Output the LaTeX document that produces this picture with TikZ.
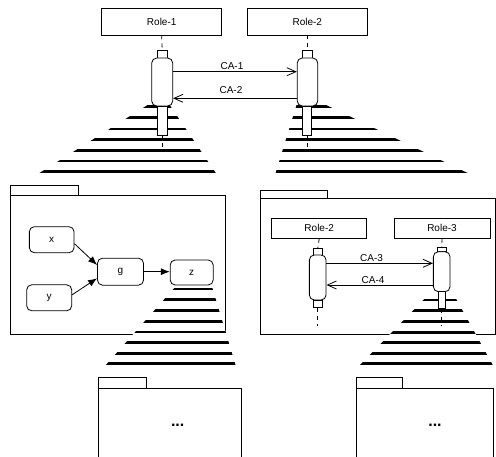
\documentclass[tikz,border=0pt]{standalone}
\usepackage{fontspec}
\setmainfont{Liberation Sans}
\usetikzlibrary{arrows.meta}
\begin{document}
\begin{tikzpicture}[x=1pt,y=-1pt,
  every node/.style={font=\fontsize{10}{12}\selectfont},
  thin line/.style={line width=0.8pt},
  rolebox/.style={draw,fill=white,thin line,inner sep=0pt,minimum width=120pt,minimum height=27pt},
  rolesmall/.style={draw,fill=white,thin line,inner sep=0pt,minimum width=95pt,minimum height=20pt},
  actbox/.style={draw,fill=white,thin line,inner sep=0pt,rounded corners=5pt},
  sqbox/.style={draw,fill=white,thin line,inner sep=0pt},
  valbox/.style={draw,fill=white,thin line,inner sep=0pt,rounded corners=5pt},
  pkg/.style={draw,fill=white,thin line},
  life/.style={thin line,dash pattern=on 4pt off 4pt},
  msg/.style={thin line,-{Straight Barb[length=9pt,width=8pt]}},
  flow/.style={thin line,-{Latex[length=9pt,width=7pt]}},
  stripe/.style={line width=2.8pt},
  dots/.style={font=\fontsize{16}{18}\selectfont\bfseries}
]
\useasboundingbox (0,0) rectangle (496,457);

% ---------- packages ----------
\draw[pkg] (10.7,195.7) rectangle (225,334.3);
\draw[pkg] (10.7,185) rectangle (78.3,195.7);
\draw[pkg] (260.7,198.3) rectangle (495,334.3);
\draw[pkg] (260.7,190) rectangle (327.3,198.3);
\draw[pkg] (98.3,388.3) rectangle (241.7,470);
\draw[pkg] (98.3,377.3) rectangle (146.7,388.3);
\draw[pkg] (356.7,388.3) rectangle (493.3,470);
\draw[pkg] (356.7,377.3) rectangle (402.7,388.3);
\node[dots] (d1) at (177.7,425) {...};
\node[dots] (d2) at (435,425) {...};

% ---------- zoom trapezoids ----------
\begin{scope}
  \clip (149.2,104) -- (169,104) -- (216.5,174) -- (37.9,174) -- cycle;
  \fill[white] (0,100) rectangle (496,180);
  \foreach \yy in {106.7,117.3,129,139.3,150.3,161,171.7}
    \draw[stripe] (0,\yy) -- (496,\yy);
\end{scope}
\begin{scope}
  \clip (296.8,104) -- (324,104) -- (469.7,174) -- (275.3,174) -- cycle;
  \fill[white] (0,100) rectangle (496,180);
  \foreach \yy in {106.7,117.3,129,139.3,150.3,161,171.7}
    \draw[stripe] (0,\yy) -- (496,\yy);
\end{scope}
\begin{scope}
  \clip (176,286) -- (211.8,286) -- (235.8,366) -- (105,366) -- cycle;
  \fill[white] (0,280) rectangle (496,370);
  \foreach \yy in {289,299.3,310.7,321.3,332,342.7,353.3,363.3}
    \draw[stripe] (0,\yy) -- (496,\yy);
\end{scope}
\begin{scope}
  \clip (426.2,297) -- (455.1,297) -- (493.3,366) -- (359,366) -- cycle;
  \fill[white] (0,290) rectangle (496,370);
  \foreach \yy in {300,310.7,321.7,332.3,342.7,353.3,363.3}
    \draw[stripe] (0,\yy) -- (496,\yy);
\end{scope}

% ---------- top sequence ----------
\node[rolebox] (r1) at (161.7,21.5) {Role-1};
\node[rolebox] (r2) at (307.3,21.5) {Role-2};

\node[sqbox,minimum width=10pt,minimum height=8pt] (s1) at (162.2,54) {};
\node[actbox,minimum width=21pt,minimum height=48pt] (a1) at (162.2,82) {};
\node[sqbox,minimum width=9.6pt,minimum height=29pt] (l1) at (162.4,120.5) {};
\coordinate (e1) at (162.4,149);
\draw[life] (r1.south) -- (s1.north);
\draw[life] (l1.south) -- (e1);

\node[sqbox,minimum width=10pt,minimum height=8pt] (s2) at (307.3,54) {};
\node[actbox,minimum width=20.5pt,minimum height=48pt] (a2) at (307.5,82) {};
\node[sqbox,minimum width=9pt,minimum height=29pt] (l2) at (307,120.5) {};
\coordinate (e2) at (307,149);
\draw[life] (r2.south) -- (s2.north);
\draw[life] (l2.south) -- (e2);

\draw[msg] (a1.east |- 0,71.7) -- (a2.west |- 0,71.7);
\draw[msg] (a2.west |- 0,98.3) -- (a1.east |- 0,98.3);
\node (c1) at (232,66) {CA-1};
\node (c2) at (231,90.5) {CA-2};

% ---------- left package content ----------
\node[valbox,minimum width=44.7pt,minimum height=26pt] (nx) at (51.7,239.7) {x};
\node[valbox,minimum width=45pt,minimum height=26pt] (ny) at (49.2,297.8) {y};
\node[valbox,minimum width=46pt,minimum height=27pt] (ng) at (120.5,271.7) {g};
\node[valbox,minimum width=43pt,minimum height=25pt] (nz) at (191.7,272.5) {z};
\draw[flow] ([shift={(0,4)}]nx.east) -- ([shift={(0,-6.7)}]ng.west);
\draw[flow] ([shift={(0,-3)}]ny.east) -- ([shift={(0,6.6)}]ng.west);
\draw[flow] (ng.east) -- (nz.west |- ng.east);

% ---------- right package content ----------
\node[rolesmall] (r2b) at (319.2,228.3) {Role-2};
\node[rolesmall,minimum width=96pt] (r3) at (442,228.3) {Role-3};

\node[sqbox,minimum width=9pt,minimum height=6.7pt] (s3) at (317.8,251.7) {};
\node[actbox,minimum width=16.7pt,minimum height=45pt] (a3) at (317.7,277.5) {};
\node[sqbox,minimum width=9pt,minimum height=7.7pt] (l3) at (317.8,303.8) {};
\coordinate (e3) at (317.8,326);
\draw[life] (r2b.south) -- (s3.north);
\draw[life] (l3.south) -- (e3);

\node[sqbox,minimum width=9pt,minimum height=4pt] (s4) at (441.7,249.7) {};
\node[actbox,minimum width=16.7pt,minimum height=40pt] (a4) at (441.7,271.7) {};
\node[sqbox,minimum width=6.7pt,minimum height=16.6pt] (l4) at (441.7,300) {};
\coordinate (e4) at (441.7,326);
\draw[life] (r3.south) -- (s4.north);
\draw[life] (l4.south) -- (e4);

\draw[msg] (a3.east |- 0,263.3) -- (a4.west |- 0,263.3);
\draw[msg] (a4.west |- 0,285) -- (a3.east |- 0,285);
\node (c3) at (371.5,258) {CA-3};
\node (c4) at (373,280) {CA-4};
\end{tikzpicture}
\end{document}
